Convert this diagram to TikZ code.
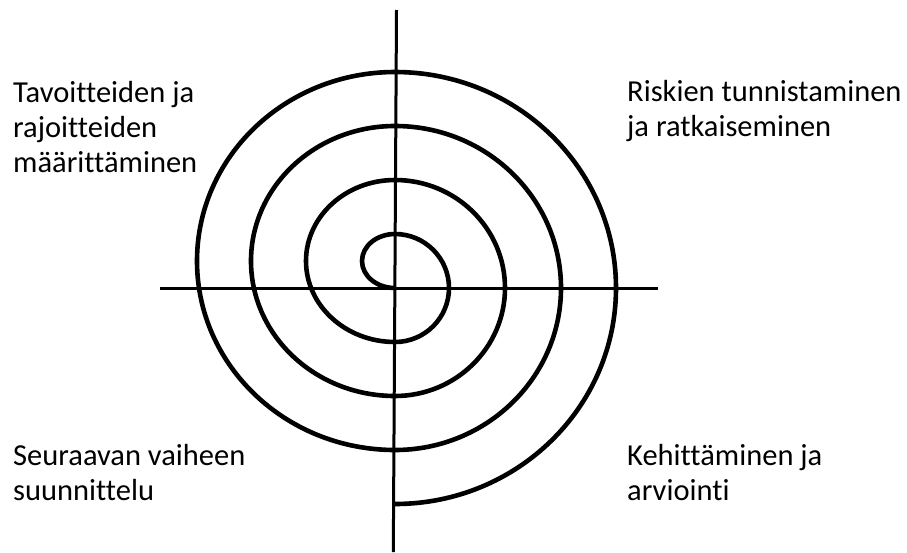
\documentclass[tikz,border=0pt]{standalone}
\usepackage{fontspec}
\setmainfont[Ligatures=NoCommon]{Carlito}
\begin{document}
\begin{tikzpicture}[x=1pt,y=-1pt,
  axisline/.style={line width=3pt,black},
  spiralline/.style={line width=4.6pt,black},
  label/.style={anchor=base west,inner sep=0pt,align=left,font=\fontsize{30.5}{35}\selectfont}]
\useasboundingbox (0,0) rectangle (907,552);
\fill[white] (0,0) rectangle (907,552);
% axes
\coordinate (vtop) at (396.5,10);
\coordinate (vbot) at (393.3,552);
\coordinate (hl) at (160,288);
\coordinate (hr) at (658,288);
\draw[axisline] (vtop) -- (vbot);
\draw[axisline] (hl) -- (hr);
% spiral
\coordinate (c) at (395,288);
\draw[spiralline] (c)
  arc[start angle=90,end angle=270,x radius=33,y radius=27]
  arc[start angle=270,end angle=450,x radius=54,y radius=54]
  arc[start angle=90,end angle=270,x radius=89,y radius=81]
  arc[start angle=270,end angle=450,x radius=110,y radius=108]
  arc[start angle=90,end angle=270,x radius=144,y radius=135]
  arc[start angle=270,end angle=450,x radius=166,y radius=162]
  arc[start angle=90,end angle=270,x radius=198,y radius=189]
  arc[start angle=270,end angle=450,x radius=221,y radius=216];
% labels (anchor = baseline of last line)
\node[label] (tl) at (13,172) {Tavoitteiden ja\\rajoitteiden\\määrittäminen};
\node[label] (tr) at (627,136) {Riskien tunnistaminen\\ja ratkaiseminen};
\node[label] (bl) at (13,500) {Seuraavan vaiheen\\suunnittelu};
\node[label] (br) at (627,500) {Kehittäminen ja\\arviointi};
\end{tikzpicture}
\end{document}
